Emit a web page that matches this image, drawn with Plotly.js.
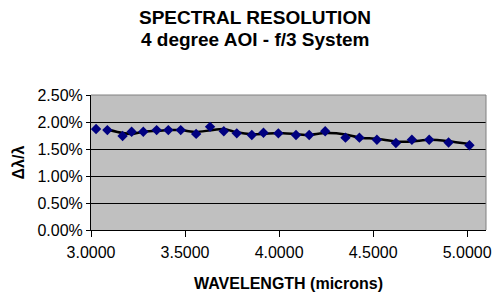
<!DOCTYPE html>
<html>
<head>
<meta charset="utf-8">
<script src="https://cdn.plot.ly/plotly-3.0.1.min.js"></script>
<style>html,body{margin:0;padding:0;background:#fff;}#chart{width:493px;height:293px;}</style>
</head>
<body>
<div id="chart"></div>
<script>
// Wavelength (microns)
var wavelength = [3.027, 3.087, 3.168, 3.216, 3.278, 3.349, 3.411, 3.477, 3.559, 3.633,
                  3.706, 3.775, 3.855, 3.917, 3.996, 4.090, 4.160, 4.245, 4.353, 4.427,
                  4.520, 4.621, 4.706, 4.798, 4.901, 5.012];
// Spectral resolution Δλ/λ (fraction)
var resolution = [0.0187, 0.0185, 0.0174, 0.0182, 0.0182, 0.0185, 0.0185, 0.0185, 0.0178, 0.0191,
                  0.0183, 0.0179, 0.0176, 0.0180, 0.0179, 0.0176, 0.0176, 0.0183, 0.0171, 0.0171,
                  0.0167, 0.0161, 0.0167, 0.0167, 0.0162, 0.0157];
var xTickVals = [3.0, 3.5, 4.0, 4.5, 5.0];
var yTickVals = [0, 0.005, 0.01, 0.015, 0.02, 0.025];
var titleLines = ['SPECTRAL RESOLUTION', '4 degree AOI - f/3 System'];

// 2-period moving average trendline
var trendX = [], trendY = [];
for (var i = 1; i < wavelength.length; i++) {
  trendX.push(wavelength[i]);
  trendY.push((resolution[i] + resolution[i - 1]) / 2);
}

var data = [
  {x: trendX, y: trendY, mode: 'lines', type: 'scatter',
   line: {color: '#000000', width: 2.5, shape: 'spline', smoothing: 0.6},
   hoverinfo: 'skip', showlegend: false},
  {x: wavelength, y: resolution, mode: 'markers', type: 'scatter',
   marker: {symbol: 'diamond', color: '#000080', size: 8, line: {width: 0}},
   showlegend: false}
];

var FONT = 'Liberation Sans, Arial, sans-serif';
var layout = {
  width: 493, height: 293,
  margin: {l: 91, r: 7, t: 95, b: 63, pad: 0},
  paper_bgcolor: '#ffffff',
  plot_bgcolor: '#c0c0c0',
  font: {family: FONT, size: 16, color: '#000'},
  xaxis: {
    range: [3.0, 5.1], tickvals: xTickVals, tickformat: '.4f',
    showgrid: false, zeroline: false,
    showline: true, linecolor: '#000', linewidth: 1,
    ticks: 'outside', ticklen: 6, tickcolor: '#000',
    tickfont: {size: 16}, ticklabelstandoff: 2,
    title: {text: '<b>WAVELENGTH (microns)</b>', font: {size: 16}, standoff: 17}
  },
  yaxis: {
    range: [0, 0.025], tickvals: yTickVals, tickformat: '.2%',
    showgrid: true, gridcolor: '#000', gridwidth: 1,
    zeroline: false,
    showline: true, linecolor: '#000', linewidth: 1,
    ticks: 'outside', ticklen: 4, tickcolor: '#000',
    tickfont: {size: 16},
    title: {text: '<b>Δλ/λ</b>', font: {size: 16}, standoff: 8}
  },
  annotations: [
    {text: '<b>' + titleLines[0] + '</b>', xref: 'paper', yref: 'paper',
     x: 0.415, y: 1 + (95 - 17) / 135, xanchor: 'center', yanchor: 'middle',
     showarrow: false, font: {family: FONT, size: 19, color: '#000'}},
    {text: '<b>' + titleLines[1] + '</b>', xref: 'paper', yref: 'paper',
     x: 0.415, y: 1 + (95 - 40) / 135, xanchor: 'center', yanchor: 'middle',
     showarrow: false, font: {family: FONT, size: 19, color: '#000'}}
  ],
  shapes: [
    {type: 'line', xref: 'paper', yref: 'paper', x0: 0, x1: 1, y0: 1, y1: 1,
     line: {color: '#808080', width: 1}},
    {type: 'line', xref: 'paper', yref: 'paper', x0: 1, x1: 1, y0: 0, y1: 1,
     line: {color: '#808080', width: 1}}
  ]
};

Plotly.newPlot('chart', data, layout, {displayModeBar: false, staticPlot: true});
</script>
</body>
</html>
